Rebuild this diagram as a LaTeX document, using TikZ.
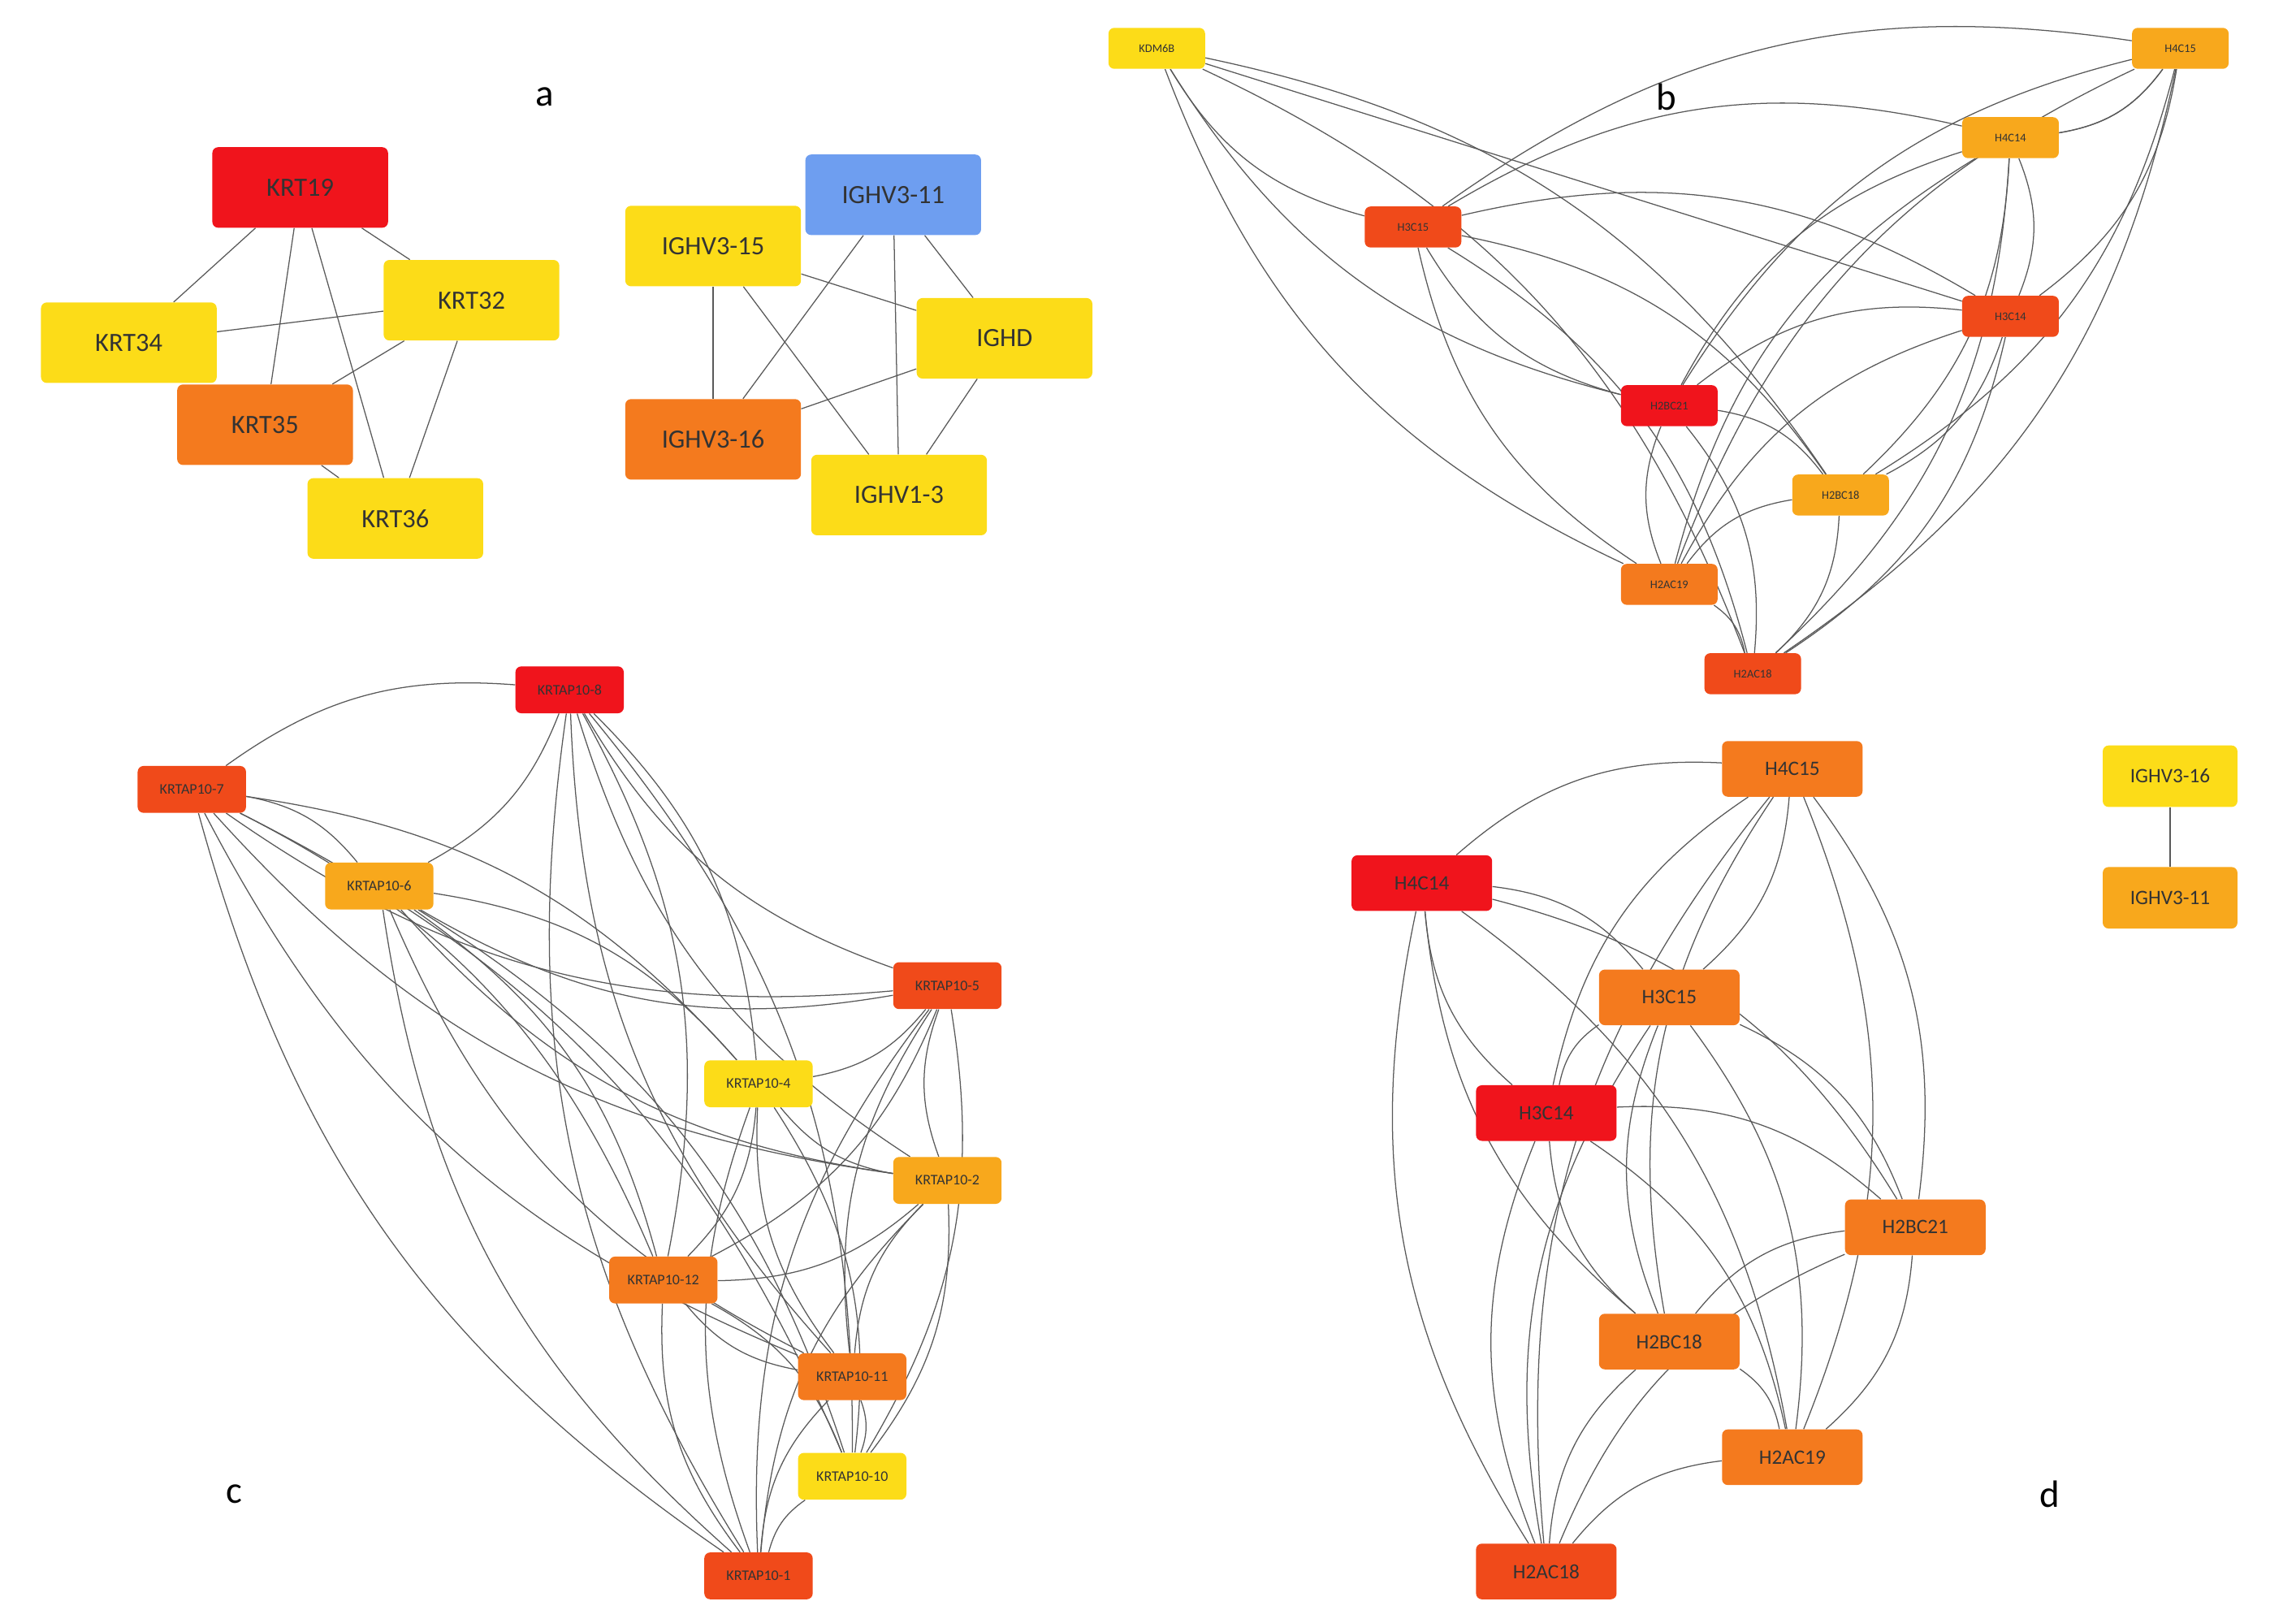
\documentclass[tikz,border=0pt]{standalone}
\usepackage{fontspec}
\setmainfont{Carlito}
\usetikzlibrary{backgrounds}
\definecolor{cr}{HTML}{F0141C}
\definecolor{cor}{HTML}{F04A1A}
\definecolor{co}{HTML}{F47A1E}
\definecolor{coy}{HTML}{F8A81C}
\definecolor{cy}{HTML}{FCDC18}
\definecolor{cb}{HTML}{6E9EF0}
\tikzset{
 nd/.style={draw=none,rounded corners=4pt,inner sep=0pt,text=black!80},
 na/.style={nd,minimum width=120pt,minimum height=55pt,font=\fontsize{18}{20}\selectfont},
 nb/.style={nd,minimum width=66pt,minimum height=28pt,font=\fontsize{8}{9}\selectfont},
 nc/.style={nd,minimum width=74pt,minimum height=32pt,font=\fontsize{10}{11}\selectfont},
 ndd/.style={nd,minimum width=96pt,minimum height=38pt,font=\fontsize{14}{16}\selectfont},
 edge/.style={draw=black!65,line width=0.7pt},
 lab/.style={font=\fontsize{26}{28}\selectfont}
}
\begin{document}
\begin{tikzpicture}[x=1pt,y=-1pt]
\useasboundingbox (0,0) rectangle (1568,1108);
% panel a
\node[na,fill=cr] (a1) at (205,128) {KRT19};
\node[na,fill=cy] (a2) at (88,234) {KRT34};
\node[na,fill=cy] (a3) at (322,205) {KRT32};
\node[na,fill=co] (a4) at (181,290) {KRT35};
\node[na,fill=cy] (a5) at (270,354) {KRT36};
\node[na,fill=cb] (g1) at (610,133) {IGHV3-11};
\node[na,fill=cy] (g2) at (487,168) {IGHV3-15};
\node[na,fill=cy] (g3) at (686,231) {IGHD};
\node[na,fill=co] (g4) at (487,300) {IGHV3-16};
\node[na,fill=cy] (g5) at (614,338) {IGHV1-3};
\node[lab] (la) at (372,66) {a};
\node[lab] (lb) at (1138,66) {b};
\node[lab] (lc) at (160,1020) {c};
\node[lab] (ld) at (1400,1020) {d};
% panel b
\node[nb,fill=cy] (b1) at (790,33) {KDM6B};
\node[nb,fill=coy] (b2) at (1489,33) {H4C15};
\node[nb,fill=coy] (b3) at (1373,94) {H4C14};
\node[nb,fill=cor] (b4) at (965,155) {H3C15};
\node[nb,fill=cor] (b5) at (1373,216) {H3C14};
\node[nb,fill=cr] (b6) at (1140,277) {H2BC21};
\node[nb,fill=coy] (b7) at (1257,338) {H2BC18};
\node[nb,fill=co] (b8) at (1140,399) {H2AC19};
\node[nb,fill=cor] (b9) at (1197,460) {H2AC18};
% panel c
\node[nc,fill=cr] (c1) at (389,471) {KRTAP10-8};
\node[nc,fill=cor] (c2) at (131,539) {KRTAP10-7};
\node[nc,fill=coy] (c3) at (259,605) {KRTAP10-6};
\node[nc,fill=cor] (c4) at (647,673) {KRTAP10-5};
\node[nc,fill=cy] (c5) at (518,740) {KRTAP10-4};
\node[nc,fill=coy] (c6) at (647,806) {KRTAP10-2};
\node[nc,fill=co] (c7) at (453,874) {KRTAP10-12};
\node[nc,fill=co] (c8) at (582,940) {KRTAP10-11};
\node[nc,fill=cy] (c9) at (582,1008) {KRTAP10-10};
\node[nc,fill=cor] (c10) at (518,1076) {KRTAP10-1};
% panel d
\node[ndd,fill=co] (d1) at (1224,525) {H4C15};
\node[ndd,fill=cr] (d2) at (971,603) {H4C14};
\node[ndd,fill=co] (d3) at (1140,681) {H3C15};
\node[ndd,fill=cr] (d4) at (1056,760) {H3C14};
\node[ndd,fill=co] (d5) at (1308,838) {H2BC21};
\node[ndd,fill=co] (d6) at (1140,916) {H2BC18};
\node[ndd,fill=co] (d7) at (1224,995) {H2AC19};
\node[ndd,fill=cor] (d8) at (1056,1073) {H2AC18};
\node[ndd,fill=cy,minimum width=92pt,minimum height=42pt] (e1) at (1482,530) {IGHV3-16};
\node[ndd,fill=coy,minimum width=92pt,minimum height=42pt] (e2) at (1482,613) {IGHV3-11};
\begin{scope}[on background layer]
\foreach \u/\v in {a1/a2,a1/a4,a1/a3,a1/a5,a2/a3,a3/a4,a3/a5,a4/a5,
  g1/g4,g1/g3,g1/g5,g2/g3,g2/g4,g2/g5,g3/g4,g3/g5,e1/e2,b1/b5}
  \draw[edge] (\u) -- (\v);
\foreach \i in {1,...,9}{\foreach \j in {3,...,9}{\ifnum\i<\j \ifnum\i\j=13\else\ifnum\i\j=15\else
  \ifodd\j \draw[edge] (b\i) to[bend left=22] (b\j);\else \draw[edge] (b\i) to[bend right=22] (b\j);\fi\fi\fi\fi}}
\draw[edge] (b2) to[bend left=22] (b3);
\foreach \i in {1,...,10}{\foreach \j in {1,...,10}{\ifnum\i<\j
  \ifodd\j \draw[edge] (c\i) to[bend left=20] (c\j);\else \draw[edge] (c\i) to[bend right=20] (c\j);\fi\fi}}
\foreach \i in {1,...,8}{\foreach \j in {1,...,8}{\ifnum\i<\j
  \ifodd\j \draw[edge] (d\i) to[bend left=22] (d\j);\else \draw[edge] (d\i) to[bend right=22] (d\j);\fi\fi}}
\end{scope}
\end{tikzpicture}
\end{document}
